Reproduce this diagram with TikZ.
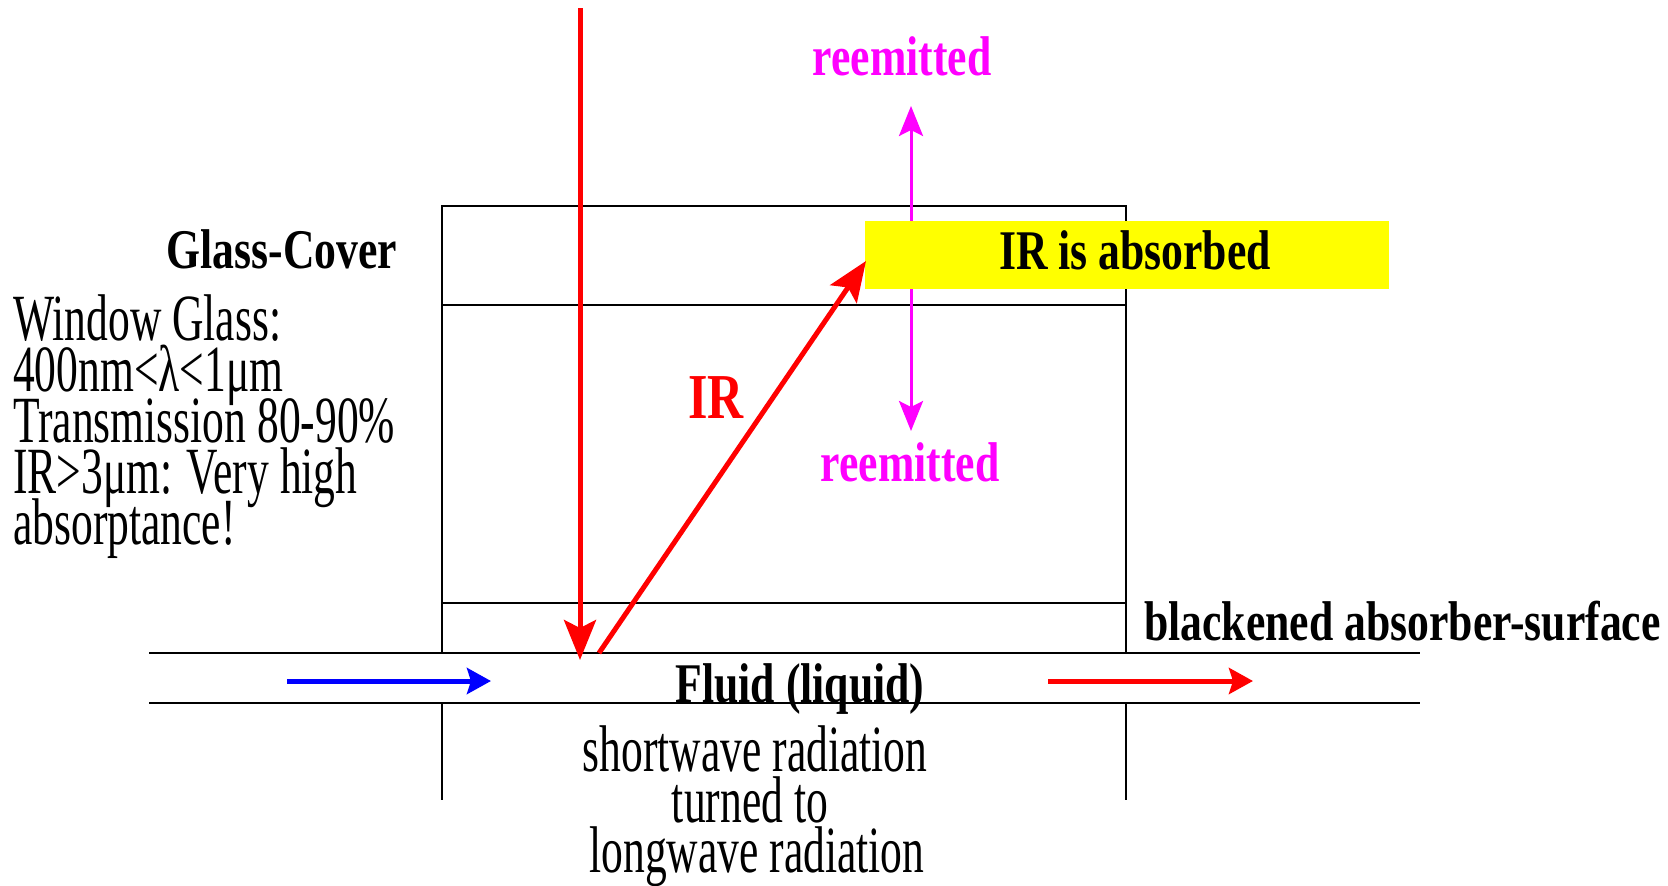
\documentclass[tikz,border=0pt]{standalone}
\usepackage{fontspec}
\setmainfont{Liberation Serif}
\newfontfamily\condn[FakeStretch=0.66]{Liberation Serif}
\newfontfamily\condb[FakeStretch=0.78]{Liberation Serif}
\usetikzlibrary{arrows.meta}
\definecolor{ray}{RGB}{255,0,0}
\definecolor{remit}{RGB}{255,0,255}
\definecolor{cold}{RGB}{0,0,255}
\definecolor{hilite}{RGB}{255,255,0}
\begin{document}
\begin{tikzpicture}[x=1pt,y=-1pt,
  frame/.style={line width=2pt, black},
  lbl/.style={font=\condn\fontsize{66}{51}\selectfont, inner sep=0pt, anchor=base west},
  clbl/.style={font=\condn\fontsize{66}{51}\selectfont, inner sep=0pt, anchor=base},
  blbl/.style={font=\condb\bfseries\fontsize{56}{56}\selectfont, inner sep=0pt, anchor=base},
  redray/.style={draw=ray, line width=5pt, -{Stealth[length=40pt,width=32pt,inset=8pt]}},
  magray/.style={draw=remit, line width=3pt, -{Stealth[length=30pt,width=24pt,inset=6pt]}},
  flow/.style={line width=5pt, -{Stealth[length=24pt,width=26pt,inset=4pt]}}]
\useasboundingbox (0,0) rectangle (1668,886);

% collector frame
\draw[frame] (442,653) -- (442,206) -- (1126,206) -- (1126,653);
\draw[frame] (442,305) -- (1126,305);
\draw[frame] (442,603) -- (1126,603);
\draw[frame] (149,653) -- (1420,653);
\draw[frame] (149,703) -- (1420,703);
\draw[frame] (442,703) -- (442,800);
\draw[frame] (1126,703) -- (1126,800);

% coordinates
\coordinate (sun) at (580,8);
\coordinate (hit) at (580,660);
\coordinate (irstart) at (599,653);
\coordinate (irend) at (866,261);
\coordinate (mup) at (911,106);
\coordinate (mdown) at (911,431);
\coordinate (inA) at (287,681);
\coordinate (inB) at (491,681);
\coordinate (outA) at (1048,681);
\coordinate (outB) at (1253,681);

% magenta reemission (under the yellow box)
\draw[remit, line width=3pt] (911,221) -- (911,289);
\draw[magray] (911,221) -- (mup);
\draw[magray] (911,289) -- (mdown);

% yellow absorption box
\node[fill=hilite, inner sep=0pt, minimum width=524, minimum height=68, anchor=north west] (ybox) at (865,221) {};
\node[blbl] (absorbed) at (1135,269) {IR is absorbed};

% rays
\draw[redray] (sun) -- (hit);
\draw[redray] (irstart) -- (irend);
\draw[flow, cold] (inA) -- (inB);
\draw[flow, ray] (outA) -- (outB);

% labels
\node[blbl, text=remit] (re1) at (902,75) {reemitted};
\node[blbl, text=remit] (re2) at (910,481) {reemitted};
\node[blbl, text=ray, font=\condb\bfseries\fontsize{64}{64}\selectfont] (irlbl) at (716,418) {IR};
\node[blbl] (glass) at (282,268) {Glass-Cover};
\node[lbl] (w1) at (13,340) {Window Glass:};
\node[lbl] (w2) at (13,391) {400nm<λ<1μm};
\node[lbl] (w3) at (13,442) {Transmission 80-90\%};
\node[lbl] (w4) at (13,493) {IR>3μm: Very high};
\node[lbl] (w5) at (13,544) {absorptance!};
\node[blbl, anchor=base west] (black) at (1144,640) {blackened absorber-surface};
\node[blbl] (fluid) at (800,702) {Fluid (liquid)};
\node[clbl] (s1) at (755,771) {shortwave radiation};
\node[clbl] (s2) at (750,822) {turned to};
\node[clbl] (s3) at (757,872) {longwave radiation};
\end{tikzpicture}
\end{document}
